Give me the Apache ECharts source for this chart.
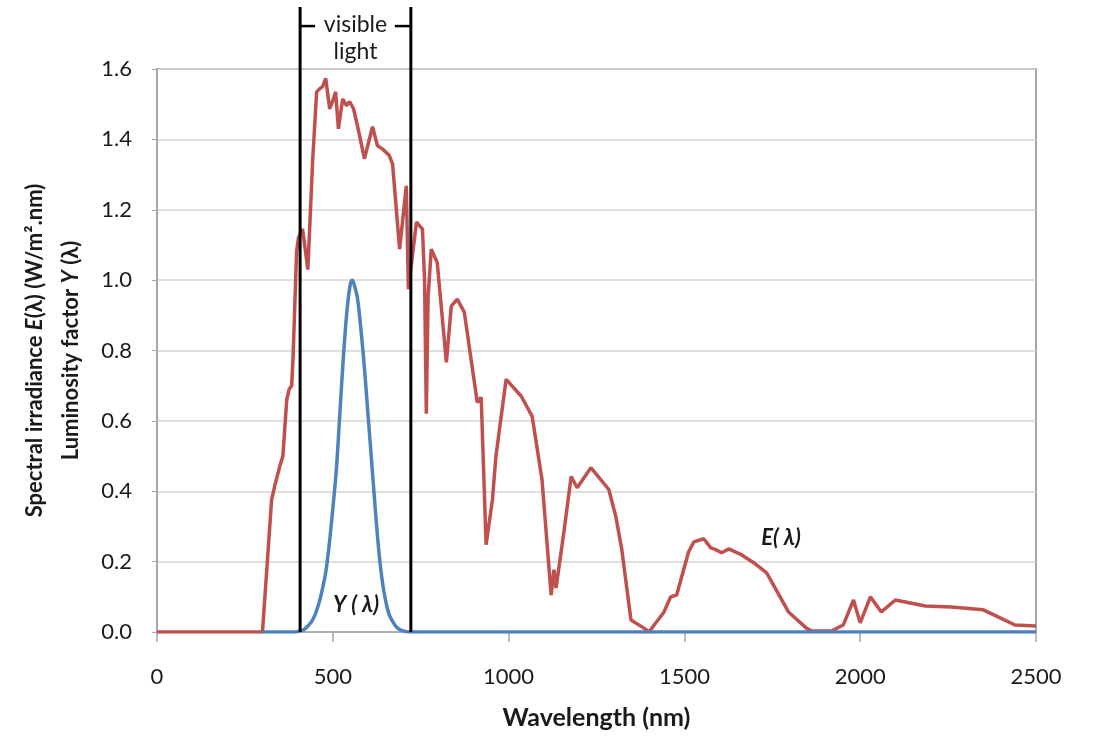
<!DOCTYPE html>
<html>
<head>
<meta charset="utf-8">
<script src="https://cdn.jsdelivr.net/npm/echarts@6/dist/echarts.min.js"></script>
<style>
html,body{margin:0;padding:0;background:#fff;}
#c{width:1096px;height:737px;}
</style>
</head>
<body>
<div id="c"></div>
<script>
// Spectral irradiance E(λ): [wavelength nm, W/m².nm]
const irradiance = [
 [0,0],[300,0],[326,0.376],[331,0.38],[336,0.42],[349,0.47],[358,0.50],[369,0.66],[376,0.69],[383,0.70],
 [387,0.78],[397,1.08],[402,1.12],[414,1.145],[420,1.10],[429,1.03],[443,1.345],[454,1.535],[463,1.544],
 [471,1.55],[480,1.573],[491,1.487],[500,1.51],[508,1.535],[516,1.43],[528,1.515],[539,1.496],[548,1.507],
 [559,1.487],[570,1.439],[590,1.345],[613,1.436],[627,1.382],[641,1.373],[660,1.355],[670,1.33],[690,1.088],
 [709,1.268],[715,0.974],[738,1.165],[755,1.145],[761,1.0],[766,0.62],[771,0.95],[780,1.088],[797,1.05],
 [823,0.766],[837,0.926],[854,0.946],[874,0.909],[911,0.652],[922,0.667],[936,0.248],[954,0.376],[964,0.50],
 [993,0.718],[1036,0.67],[1067,0.613],[1095,0.433],[1121,0.105],[1129,0.177],[1135,0.125],[1158,0.29],
 [1178,0.442],[1195,0.41],[1234,0.467],[1285,0.405],[1305,0.328],[1322,0.234],[1348,0.034],[1385,0.011],
 [1399,0.0],[1442,0.057],[1461,0.10],[1478,0.105],[1512,0.228],[1527,0.256],[1555,0.265],[1575,0.239],
 [1589,0.234],[1606,0.225],[1626,0.236],[1663,0.219],[1697,0.197],[1734,0.168],[1796,0.057],[1847,0.011],
 [1862,0.003],[1918,0.003],[1952,0.02],[1981,0.091],[2000,0.026],[2029,0.10],[2060,0.057],[2100,0.091],
 [2185,0.074],[2259,0.071],[2350,0.063],[2392,0.043],[2440,0.02],[2500,0.017]
];
// Luminosity factor Y(λ): [wavelength nm, relative]
const luminosity = [
 [300,0],[390,0],[400,0.001],[410,0.003],[420,0.008],[430,0.018],[440,0.03],[450,0.05],[460,0.08],[470,0.12],
 [480,0.17],[490,0.25],[500,0.35],[510,0.46],[520,0.62],[530,0.78],[540,0.91],[550,0.99],[555,1.0],[560,0.99],
 [570,0.95],[580,0.86],[590,0.75],[600,0.62],[610,0.49],[620,0.36],[630,0.24],[640,0.15],[650,0.09],[660,0.05],
 [670,0.03],[680,0.015],[690,0.007],[700,0.003],[710,0.001],[720,0],[2500,0]
];
const xTicks = [0, 2500, 500];     // min, max, interval
const yTicks = [0, 1.6, 0.2];      // min, max, interval
const visibleBounds = [407, 722];  // nm
const visibleTop = 1.776;
const visibleBracket = 1.722;
const visibleLabels = ['visible', 'light'];
const eLabelPos = [1775, 0.267];
const yLabelPos = [566, 0.077];

const FONT = 'Lato, "Open Sans", sans-serif';
const TXT = '#1a1a1a';
const chart = echarts.init(document.getElementById('c'), null, {renderer: 'canvas'});
chart.setOption({
  animation: false,
  backgroundColor: '#fff',
  grid: {left: 157, right: 60, top: 69, bottom: 105, show: true, borderColor: '#a6a6a6', borderWidth: 2, backgroundColor: 'transparent'},
  xAxis: {
    type: 'value', min: xTicks[0], max: xTicks[1], interval: xTicks[2],
    name: 'Wavelength (nm)', nameLocation: 'middle', nameGap: 73,
    nameTextStyle: {fontFamily: FONT, fontSize: 25, fontWeight: 'bold', color: TXT},
    axisLine: {lineStyle: {color: '#a6a6a6', width: 1.5}},
    axisTick: {show: true, length: 10, lineStyle: {color: '#a6a6a6', width: 1.5}},
    axisLabel: {fontFamily: FONT, fontSize: 22, color: TXT, margin: 34, formatter: v => String(v)},
    splitLine: {show: false}
  },
  yAxis: {
    type: 'value', min: yTicks[0], max: yTicks[1], interval: yTicks[2],
    name: 'Spectral irradiance {i|E}(λ) (W/m².nm)\nLuminosity factor {i|Y} (λ)',
    nameLocation: 'middle', nameGap: 68, nameRotate: 90,
    nameTextStyle: {fontFamily: FONT, fontSize: 22, fontWeight: 'bold', color: TXT, lineHeight: 36,
      rich: {i: {fontFamily: FONT, fontSize: 22, fontWeight: 'bold', fontStyle: 'italic', color: TXT, lineHeight: 36}}},
    axisLine: {show: true, lineStyle: {color: '#a6a6a6', width: 1.5}},
    axisTick: {show: true, length: 5, lineStyle: {color: '#a6a6a6'}},
    axisLabel: {fontFamily: FONT, fontSize: 22, color: TXT, margin: 25, formatter: v => v.toFixed(1)},
    splitLine: {lineStyle: {color: '#d4d4d4', width: 1.5}}
  },
  series: [
    {name: 'E', type: 'line', data: irradiance, showSymbol: false, symbol: 'none',
     lineStyle: {color: '#C0504D', width: 3.5}, z: 2},
    {name: 'Y', type: 'line', data: luminosity, showSymbol: false, symbol: 'none', smooth: 0.3,
     lineStyle: {color: '#4F81BD', width: 3.5}, z: 3}
  ]
});

function px(p){ return chart.convertToPixel({xAxisIndex: 0, yAxisIndex: 0}, p); }
const a0 = px([visibleBounds[0], 0]), a1 = px([visibleBounds[0], visibleTop]);
const b0 = px([visibleBounds[1], 0]), b1 = px([visibleBounds[1], visibleTop]);
const br = px([visibleBounds[0], visibleBracket])[1];
const mid = (a0[0] + b0[0]) / 2;
const eL = px(eLabelPos), yL = px(yLabelPos);
const lineStyle = {stroke: '#000', lineWidth: 3};
chart.setOption({
  graphic: [
    {type: 'line', shape: {x1: a0[0], y1: a0[1], x2: a1[0], y2: a1[1]}, style: lineStyle, z: 10},
    {type: 'line', shape: {x1: b0[0], y1: b0[1], x2: b1[0], y2: b1[1]}, style: lineStyle, z: 10},
    {type: 'line', shape: {x1: a0[0], y1: br, x2: a0[0] + 15, y2: br}, style: {stroke: '#000', lineWidth: 2.5}, z: 10},
    {type: 'line', shape: {x1: b0[0] - 16, y1: br, x2: b0[0], y2: br}, style: {stroke: '#000', lineWidth: 2.5}, z: 10},
    {type: 'text', x: mid, y: br - 1, style: {text: visibleLabels[0], fontFamily: FONT, fontSize: 23, fill: TXT, align: 'center', verticalAlign: 'middle'}, z: 10},
    {type: 'text', x: mid, y: br + 26, style: {text: visibleLabels[1], fontFamily: FONT, fontSize: 23, fill: TXT, align: 'center', verticalAlign: 'middle'}, z: 10},
    {type: 'text', x: eL[0], y: eL[1], style: {text: 'E( λ)', fontFamily: FONT, fontSize: 22, fontWeight: 'bold', fontStyle: 'italic', fill: TXT, align: 'center', verticalAlign: 'middle'}, z: 10},
    {type: 'text', x: yL[0], y: yL[1], style: {text: 'Y ( λ)', fontFamily: FONT, fontSize: 22, fontWeight: 'bold', fontStyle: 'italic', fill: TXT, align: 'center', verticalAlign: 'middle'}, z: 10}
  ]
});
</script>
</body>
</html>
